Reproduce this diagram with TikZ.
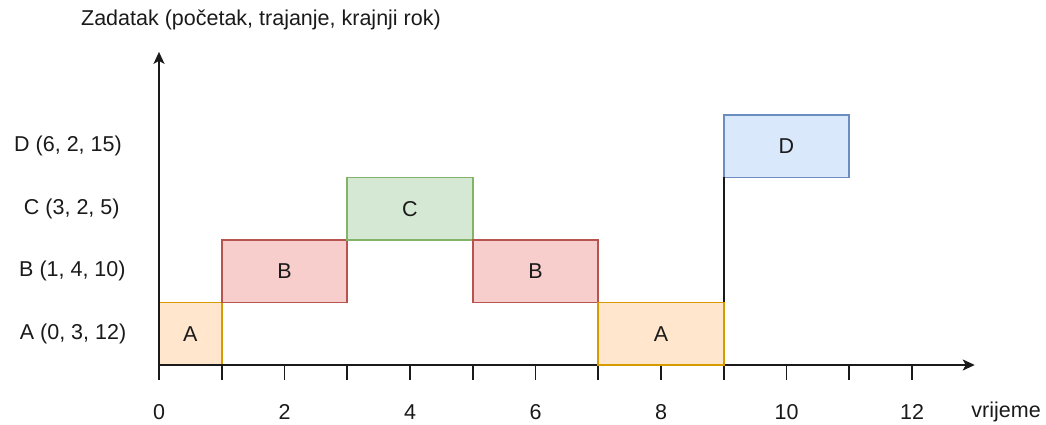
\documentclass[tikz,border=0pt]{standalone}
\usepackage{fontspec}
\setmainfont{Liberation Sans}
\usepackage{xcolor}
\definecolor{peach}{HTML}{FFE6CC}
\definecolor{amber}{HTML}{D79B00}
\definecolor{rose}{HTML}{F8CECC}
\definecolor{brick}{HTML}{B85450}
\definecolor{mint}{HTML}{D5E8D4}
\definecolor{fern}{HTML}{82B366}
\definecolor{sky}{HTML}{DAE8FC}
\definecolor{steel}{HTML}{6C8EBF}
\definecolor{ink}{HTML}{1A1A1A}
\usetikzlibrary{arrows.meta}
\tikzset{
  axis/.style={draw=ink, line width=1.7pt},
  arrowed/.style={axis, -{Stealth[length=12pt, width=11pt, inset=3pt]}},
  task/.style={line width=1.6pt, anchor=south west, inner sep=0pt, outer sep=0pt, minimum height=62.5pt, minimum width=#1*62.75pt},
  taskA/.style={task=#1, draw=amber, fill=peach},
  taskB/.style={task=#1, draw=brick, fill=rose},
  taskC/.style={task=#1, draw=fern, fill=mint},
  taskD/.style={task=#1, draw=steel, fill=sky},
  lbl/.style={text=ink, font=\fontsize{21.5}{26}\selectfont},
}

\begin{document}
\begin{tikzpicture}[x=62.75pt, y=62.5pt, every node/.append style={lbl}]
  \useasboundingbox (-159pt,-60pt) rectangle (887pt,365pt);
  \coordinate (o) at (0,0);
  \coordinate (xend) at (13,0);
  \coordinate (yend) at (0,5.01);
  \node[taskA=1] (a1) at (0,0) {A};
  \foreach \t in {0,...,12} \draw[axis] (\t,0) coordinate (t\t) -- ++(0,-15pt);
  \draw[arrowed] (o) -- (xend);
  \draw[arrowed] (o) -- (yend);
  \foreach \t in {0,2,...,12} \node (n\t) at (\t,-0.75) {\t};
  \node (time) at (13.5,-0.75) {vrijeme};
  \node (head) at (1.625,5.52) {Zadatak (početak, trajanje, krajnji rok)};
  \node (rA) at (-1.37,0.5) {A (0, 3, 12)};
  \node (rB) at (-1.38,1.5) {B (1, 4, 10)};
  \node (rC) at (-1.39,2.5) {C (3, 2, 5)};
  \node (rD) at (-1.45,3.5) {D (6, 2, 15)};
  \node[taskB=2] (b1) at (1,1) {B};
  \node[taskC=2] (c) at (3,2) {C};
  \node[taskB=2] (b2) at (5,1) {B};
  \node[taskA=2] (a2) at (7,0) {A};
  \node[taskD=2] (d) at (9,3) {D};
  \draw[axis] (a2.north east) -- (d.south west);
\end{tikzpicture}
\end{document}
